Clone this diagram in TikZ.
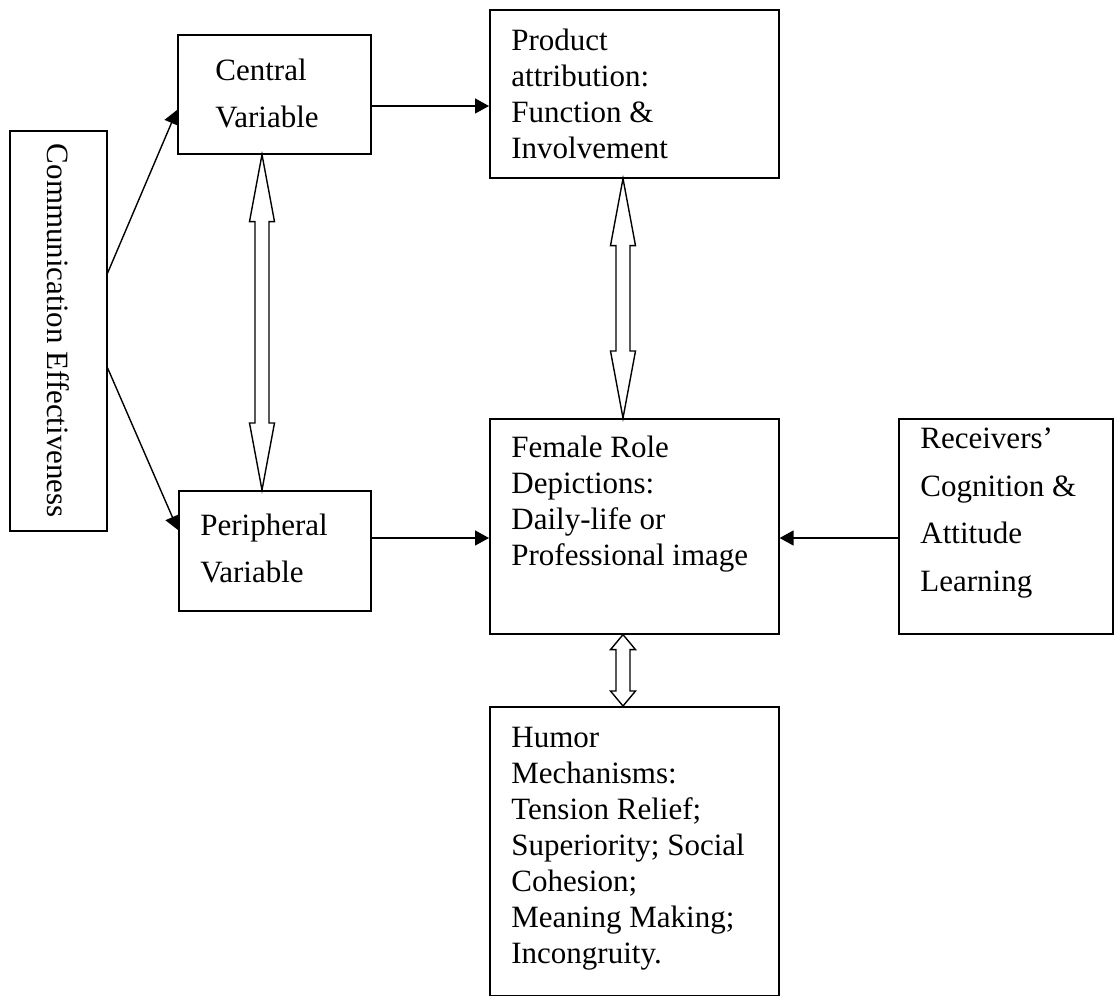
\documentclass[tikz,border=0pt]{standalone}
\usepackage{fontspec}
\setmainfont{Liberation Serif}
\usepackage{tikz}
\usetikzlibrary{arrows.meta,calc}
\tikzset{
  >={Triangle[length=7pt,width=7.5pt]},
  every picture/.style={line join=miter},
  box/.style={draw, line width=0.8pt, anchor=north west, inner sep=0pt},
  txt/.style={anchor=north west, inner sep=0pt, align=left, font=\fontsize{15.5}{18}\selectfont},
  widetxt/.style={txt, font=\fontsize{15.5}{23.75}\selectfont},
  link/.style={->, line width=0.7pt},
}
% 白抜きの両矢印
\newcommand\hollowarrow[3]{%
  \draw[line width=0.7pt] (#1) -- ++(-6.25pt,-#3) -- ++(2.75pt,0pt)
    -- ($(#2)+(-3.5pt,#3)$) -- ++(-2.75pt,0pt) -- (#2) -- ++(6.25pt,#3)
    -- ++(-2.75pt,0pt) -- ($(#1)+(3.5pt,-#3)$) -- ++(2.75pt,0pt) -- cycle;}

\begin{document}
\begin{tikzpicture}[x=0.5pt,y=-0.5pt]
  \useasboundingbox (0,0) rectangle (1114,996);
  % 枠
  \node[box, minimum width=48.5pt, minimum height=200pt] (comm) at (9,130) {};
  \node[box, minimum width=96.5pt, minimum height=59.5pt] (central) at (177,34) {};
  \node[box, minimum width=96pt, minimum height=60pt] (peripheral) at (178,490) {};
  \node[box, minimum width=144.5pt, minimum height=84pt] (product) at (489,9) {};
  \node[box, minimum width=144.5pt, minimum height=107.5pt] (female) at (489,418) {};
  \node[box, minimum width=107pt, minimum height=107.5pt] (receivers) at (898,418) {};
  \node[box, minimum width=144.5pt, minimum height=144.5pt] (humor) at (489,706) {};
  % 文字
  \node[txt, rotate=-90, anchor=center] (commtext) at (comm.center) {Communication Effectiveness};
  \node[widetxt] (centraltext) at ([shift={(19pt,-6.4pt)}]central.north west) {\strut Central\\Variable};
  \node[widetxt] (peripheraltext) at ([shift={(11pt,-5.9pt)}]peripheral.north west) {\strut Peripheral\\Variable};
  \node[txt] (producttext) at ([shift={(11pt,-7.9pt)}]product.north west)
    {\strut Product\\attribution:\\Function \&\\Involvement};
  \node[txt] (femaletext) at ([shift={(11pt,-6.9pt)}]female.north west)
    {\strut Female Role\\Depictions:\\Daily-life or\\Professional image};
  \node[widetxt] (receiverstext) at ([shift={(11pt,1.5pt)}]receivers.north west)
    {\strut Receivers’\\Cognition \&\\Attitude\\Learning};
  \node[txt] (humortext) at ([shift={(11pt,-7.9pt)}]humor.north west)
    {\strut Humor\\Mechanisms:\\Tension Relief;\\Superiority; Social\\Cohesion;\\Meaning Making;\\Incongruity.};
  % 矢印
  \draw[link] ([yshift=-71.5pt]comm.north east) -- ([yshift=-38pt]central.north west);
  \draw[link] ([yshift=-119pt]comm.north east) -- ([yshift=-20pt]peripheral.north west);
  \coordinate (cp) at ([yshift=-36pt]central.north east);
  \draw[link] (cp) -- (cp -| product.west);
  \coordinate (pf) at ([yshift=-24pt]peripheral.north east);
  \draw[link] (pf) -- (pf -| female.west);
  \draw[link] (pf -| receivers.west) -- (pf -| female.east);
  % 両矢印
  \coordinate (cv) at ([xshift=42.5pt]central.south west);
  \coordinate (cvb) at (cv |- peripheral.north);
  \hollowarrow{cv}{cvb}{33.5pt}
  \coordinate (pv) at ([xshift=67pt]product.south west);
  \coordinate (pvb) at (pv |- female.north);
  \hollowarrow{pv}{pvb}{33.5pt}
  \coordinate (fv) at ([xshift=67pt]female.south west);
  \coordinate (fvb) at (fv |- humor.north);
  \hollowarrow{fv}{fvb}{7.5pt}
\end{tikzpicture}
\end{document}
